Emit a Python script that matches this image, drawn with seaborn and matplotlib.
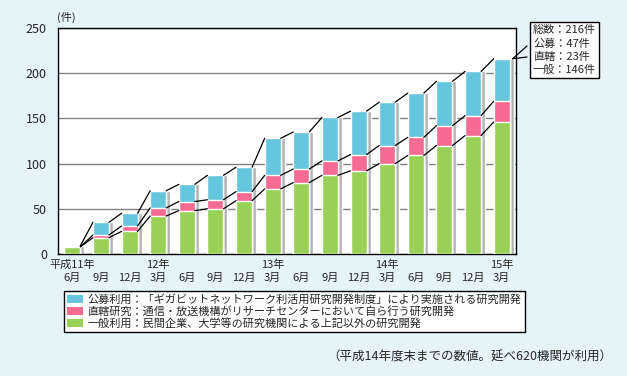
import numpy as np
import pandas as pd
import matplotlib
matplotlib.use("Agg")
import matplotlib.pyplot as plt
from matplotlib.patches import Patch, ConnectionPatch
import matplotlib.transforms as mtransforms
import seaborn as sns

# データ（件数、累積）
periods = ["H11.6", "H11.9", "H11.12", "H12.3", "H12.6", "H12.9", "H12.12", "H13.3",
           "H13.6", "H13.9", "H13.12", "H14.3", "H14.6", "H14.9", "H14.12", "H15.3"]
year_labels = ["平成11年", "", "", "12年", "", "", "", "13年",
               "", "", "", "14年", "", "", "", "15年"]
month_labels = ["6月", "9月", "12月", "3月", "6月", "9月", "12月", "3月",
                "6月", "9月", "12月", "3月", "6月", "9月", "12月", "3月"]
general = [8, 18, 25, 42, 48, 50, 59, 72, 79, 87, 92, 100, 109, 120, 131, 146]
direct = [0, 3, 6, 9, 10, 10, 10, 15, 15, 16, 18, 20, 20, 22, 22, 23]
public = [1, 14, 14, 19, 19, 27, 27, 41, 41, 48, 48, 48, 49, 49, 49, 47]

legend_labels = [
    "公募利用：「ギガビットネットワーク利活用研究開発制度」により実施される研究開発",
    "直轄研究：通信・放送機構がリサーチセンターにおいて自ら行う研究開発",
    "一般利用：民間企業、大学等の研究機関による上記以外の研究開発",
]
note = "（平成14年度末までの数値。延べ620機関が利用）"

c_blue = "#66C6DD"
c_pink = "#F66B91"
c_green = "#99D157"
c_shadow = "#B2B2B2"
bg = "#E5F4F9"

df = pd.DataFrame({"period": periods, "general": general, "direct": direct, "public": public})
df["lvl_green"] = df["general"]
df["lvl_pink"] = df["general"] + df["direct"]
df["total"] = df["lvl_pink"] + df["public"]

sns.set_style("white")
plt.rcParams["font.family"] = ["Noto Sans CJK JP", "DejaVu Sans"]

fig = plt.figure(figsize=(6.27, 3.76), dpi=100, facecolor=bg)
ax = fig.add_axes([0.0925, 0.3245, 0.7305, 0.601])
ax.set_facecolor("white")

bw = 0.56
hw = bw / 2
xs = np.arange(len(df))

# 影（右側のグレー）
ax.bar(xs + hw + 0.07, df["total"], width=0.14, color=c_shadow, zorder=1)

# 積み上げ棒
sns.barplot(data=df, x="period", y="total", color=c_blue, width=bw, saturation=1, ax=ax, zorder=2)
sns.barplot(data=df, x="period", y="lvl_pink", color=c_pink, width=bw, saturation=1, ax=ax, zorder=3)
sns.barplot(data=df, x="period", y="lvl_green", color=c_green, width=bw, saturation=1, ax=ax, zorder=4)

# 棒の間をつなぐ線
for col in ["lvl_green", "lvl_pink", "total"]:
    v = df[col].values
    for i in range(len(v) - 1):
        ax.plot([i + hw, i + 1 - hw], [v[i], v[i + 1]], color="black", lw=0.9, zorder=5)

ax.set_xlim(-0.5, len(df) - 0.5)
ax.set_ylim(0, 250)
ax.set_yticks([0, 50, 100, 150, 200, 250])
ax.yaxis.grid(True, color="#808080", lw=1)
ax.set_axisbelow(True)
ax.set_xlabel("")
ax.set_ylabel("")

# x軸ラベル（年・月の2段）
ax.set_xticks([])
ax.set_xticks(xs[:-1] + 0.5, minor=True)
ax.tick_params(axis="x", which="minor", length=4, direction="in", color="black", width=1)
ax.tick_params(axis="y", length=0, pad=8, labelsize=9)
trans = mtransforms.blended_transform_factory(ax.transData, ax.transAxes)
for i, (yl, ml) in enumerate(zip(year_labels, month_labels)):
    if yl:
        ax.text(i, -11 / 226, yl, transform=trans, ha="center", va="center", fontsize=8)
    ax.text(i, -24 / 226, ml, transform=trans, ha="center", va="center", fontsize=8)

for s in ax.spines.values():
    s.set_color("black")
    s.set_linewidth(1)

fig.text(66 / 627, 1 - 17 / 376, "(件)", ha="center", va="center", fontsize=8)

# 最終値の吹き出し
t = df.iloc[-1]
box_txt = (f"総数：{t['total']}件\n公募：{t['public']}件\n"
           f"直轄：{t['direct']}件\n一般：{t['general']}件")
fig.text(533 / 627, 1 - 50 / 376, box_txt, ha="left", va="center", fontsize=8, linespacing=1.35,
         bbox=dict(boxstyle="square,pad=0.3", fc="white", ec="black", lw=1))
for yb in [46, 57]:
    con = ConnectionPatch(xyA=(len(df) - 1 + hw + 0.1, t["total"]), coordsA=ax.transData,
                          xyB=(527 / 627, 1 - yb / 376), coordsB=fig.transFigure,
                          color="black", lw=0.9)
    fig.add_artist(con)

# 凡例
handles = [Patch(fc=c_blue, ec="none"), Patch(fc=c_pink, ec="none"), Patch(fc=c_green, ec="none")]
leg = fig.legend(handles, legend_labels, loc="upper left", bbox_to_anchor=(64 / 627, 1 - 291 / 376),
                 fontsize=8, frameon=True, fancybox=False, framealpha=1, edgecolor="black",
                 borderaxespad=0, borderpad=0.3, labelspacing=0.1, handlelength=1.45,
                 handleheight=0.7, handletextpad=0.35)
leg.get_frame().set_linewidth(1)

fig.text(612 / 627, 1 - 357 / 376, note, ha="right", va="center", fontsize=9)

fig.savefig("out.png", dpi=100, facecolor=bg)
